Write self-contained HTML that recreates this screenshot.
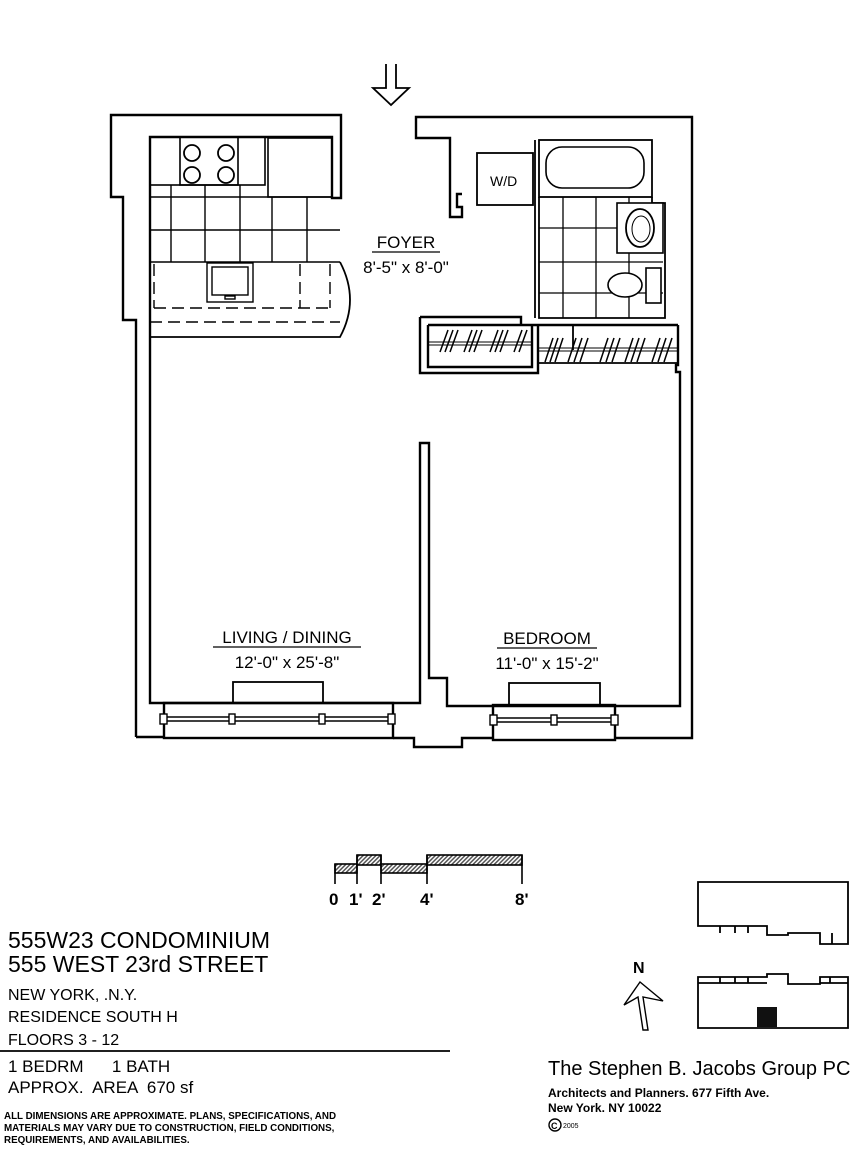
<!DOCTYPE html>
<html><head><meta charset="utf-8"><style>
html,body{margin:0;padding:0;background:#fff}
svg{display:block}
text{font-family:"Liberation Sans",Arial,sans-serif;fill:#000}
</style></head><body>
<svg width="857" height="1152" viewBox="0 0 857 1152" xmlns="http://www.w3.org/2000/svg">
<defs><pattern id="hp" width="3" height="3" patternUnits="userSpaceOnUse" patternTransform="rotate(45)"><rect width="3" height="3" fill="#fff"/><rect width="1.5" height="3" fill="#555"/></pattern></defs>
<g fill="none" stroke="#000" stroke-width="2.4" stroke-linejoin="miter">
<path d="M386 64 V88 H373 L391 105 L409 88 H396 V64" stroke-width="1.8"/>
<path d="M136 737 V320 H123 V197 H111 V115 H341 V198 H332 V137 H150 V703 H420 V443 H429 V678 H447 V706 H680 V372 H676 V365 H678 V325"/>
<path d="M136 737 H164 M393 738 H414 V747 H462 V738 H493 M615 738 H692 V117 H416 V138 H450 V217 H462 V207 H457 V194 H462"/>
<rect x="150" y="137" width="115" height="48" stroke-width="1.6"/>
<rect x="180" y="137" width="58" height="48" stroke-width="1.6"/>
<rect x="268" y="138" width="64" height="59" stroke-width="1.6"/>
<g stroke-width="1.8"><circle cx="192" cy="153" r="8"/><circle cx="226" cy="153" r="8"/><circle cx="192" cy="175" r="8"/><circle cx="226" cy="175" r="8"/></g>
<g stroke-width="1.4">
<path d="M150 197 H332 M150 230 H340 M150 262 H340 M171 185 V262 M205 185 V262 M240 185 V262 M272 197 V262 M307 197 V262"/>
<rect x="207" y="263" width="46" height="39"/><rect x="212" y="267" width="36" height="28"/><rect x="225" y="296" width="10" height="3"/>
<path d="M150 337 H340 Q360 300 340 262" stroke-width="1.8"/>
<path d="M154 308 H330 M150 322 H340 M154 264 V308 M300 264 V308 M330 264 V308" stroke-dasharray="12 6"/>
</g>
<rect x="477" y="153" width="56" height="52" stroke-width="1.8"/>
<rect x="539" y="140" width="113" height="57" stroke-width="1.8"/>
<rect x="546" y="147" width="98" height="41" rx="16" stroke-width="1.6"/>
<path d="M535 140 V318 M539 197 V318 H665 V203 H652 V197" stroke-width="1.8"/>
<g stroke-width="1.3"><path d="M563 197 V318 M596 197 V318 M629 197 V318 M539 228 H617 M539 262 H663 M539 293 H663"/></g>
<rect x="617" y="203" width="46" height="50" fill="#fff" stroke-width="1.6"/>
<ellipse cx="640" cy="228" rx="14" ry="19" stroke-width="1.8"/><ellipse cx="641" cy="229" rx="9" ry="13" stroke-width="1"/>
<ellipse cx="625" cy="285" rx="17" ry="12" fill="#fff" stroke-width="1.6"/>
<rect x="646" y="268" width="15" height="35" fill="#fff" stroke-width="1.6"/>
<path d="M420 317 V373 H538 V325 H678 M420 317 H521 V325 H538 M428 325 V367 H532 V325 H428"/>
<path d="M538 363 H678 M573 325 V350" stroke-width="1.8"/>
<path d="M428 342 H532 M428 345 H532 M538 348 H678 M538 351 H678" stroke-width="1"/>
<g stroke-width="1.5">
<path d="M440 352 L448 330 M445 352 L453 330 M450 352 L458 330 M464 352 L472 330 M469 352 L477 330 M474 352 L482 330 M490 352 L498 330 M495 352 L503 330 M500 352 L508 330 M514 352 L522 330 M519 352 L527 330"/>
<path d="M545 362 L553 338 M550 362 L558 338 M555 362 L563 338 M568 362 L576 338 M574 362 L582 338 M580 362 L588 338 M600 362 L608 338 M606 362 L614 338 M612 362 L620 338 M625 362 L633 338 M631 362 L639 338 M637 362 L645 338 M652 362 L660 338 M658 362 L666 338 M664 362 L672 338"/>
</g>
<rect x="233" y="682" width="90" height="21" stroke-width="1.8"/>
<rect x="509" y="683" width="91" height="22" stroke-width="1.8"/>
<rect x="164" y="703" width="229" height="35"/>
<rect x="493" y="705" width="122" height="35"/>
<path d="M164 717 H393 M164 721 H393 M493 718 H615 M493 722 H615" stroke-width="1.4"/>
<g stroke-width="1.4" fill="#fff"><rect x="160" y="714" width="7" height="10"/><rect x="229" y="714" width="6" height="10"/><rect x="319" y="714" width="6" height="10"/><rect x="388" y="714" width="7" height="10"/><rect x="490" y="715" width="7" height="10"/><rect x="551" y="715" width="6" height="10"/><rect x="611" y="715" width="7" height="10"/></g>
<g stroke-width="1.6">
<rect x="335" y="864" width="22" height="9" fill="url(#hp)"/><rect x="357" y="855" width="24" height="10" fill="url(#hp)"/><rect x="381" y="864" width="46" height="9" fill="url(#hp)"/><rect x="427" y="855" width="95" height="10" fill="url(#hp)"/>
<path d="M335 864 V884 M357 855 V884 M381 855 V884 M427 855 V884 M522 855 V884"/>
</g>
<g stroke-width="1.8">
<path d="M698 882 H848 V944 H820 V933 H788 V935 H767 V926 H698 Z M832 933 V944 M720 926 V933 M735 926 V933 M748 926 V933"/>
<path d="M698 1028 V977 H767 V974 H788 V984 H820 V977 H848 V1028 Z M720 977 V983 M735 977 V983 M748 977 V983 M698 983 H767 M820 983 H848 M830 977 V983"/>
<path d="M648 1030 L643 997 L663 1001 L640 982 L624 1005 L638 997 L643 1030 Z" stroke-width="1.4"/>
</g>
<rect x="757" y="1007" width="20" height="20" fill="#111" stroke="none"/>
<path d="M0 1051 H450" stroke-width="1.8"/>
<circle cx="555" cy="1125" r="6" stroke-width="1.4"/>
</g>
<g font-size="17" text-anchor="middle">
<text x="406" y="248">FOYER</text><text x="406" y="273">8'-5" x 8'-0"</text>
<text x="287" y="643">LIVING / DINING</text><text x="287" y="668">12'-0" x 25'-8"</text>
<text x="547" y="644">BEDROOM</text><text x="547" y="669">11'-0" x 15'-2"</text>
</g>
<g stroke="#000" stroke-width="1.3"><path d="M372 252 H440 M213 647 H361 M497 648 H597"/></g>
<text x="490" y="186" font-size="14">W/D</text>
<g font-size="17" font-weight="bold"><text x="329" y="905">0</text><text x="349" y="905">1'</text><text x="372" y="905">2'</text><text x="420" y="905">4'</text><text x="515" y="905">8'</text></g>
<text x="8" y="948" font-size="23">555W23 CONDOMINIUM</text>
<text x="8" y="972" font-size="23">555 WEST 23rd STREET</text>
<text x="8" y="1000" font-size="16">NEW YORK, .N.Y.</text>
<text x="8" y="1022" font-size="16">RESIDENCE SOUTH H</text>
<text x="8" y="1045" font-size="16">FLOORS 3 - 12</text>
<text x="8" y="1072" font-size="17" xml:space="preserve">1 BEDRM      1 BATH</text>
<text x="8" y="1093" font-size="17" xml:space="preserve">APPROX.  AREA  670 sf</text>
<g font-size="9.8" font-weight="bold"><text x="4" y="1119">ALL DIMENSIONS ARE APPROXIMATE.  PLANS, SPECIFICATIONS, AND</text><text x="4" y="1131">MATERIALS MAY VARY DUE TO CONSTRUCTION, FIELD CONDITIONS,</text><text x="4" y="1143">REQUIREMENTS, AND AVAILABILITIES.</text></g>
<text x="633" y="973" font-size="16" font-weight="bold">N</text>
<text x="548" y="1075" font-size="20">The Stephen B. Jacobs Group PC</text>
<text x="548" y="1097" font-size="12" font-weight="bold">Architects and Planners.  677 Fifth Ave.</text>
<text x="548" y="1112" font-size="12" font-weight="bold">New York.  NY 10022</text>
<text x="551" y="1129" font-size="9" font-weight="bold">C</text><text x="563" y="1128" font-size="7">2005</text>
</svg>
</body></html>
